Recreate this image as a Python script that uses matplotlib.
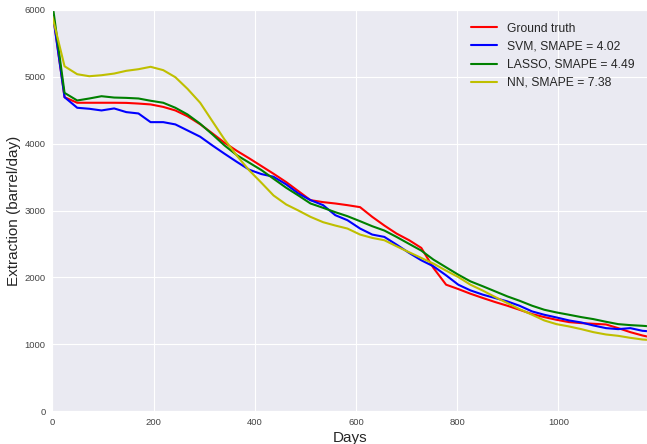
import numpy as np
import matplotlib
matplotlib.use("Agg")
import matplotlib.pyplot as plt
import seaborn as sns

# measurement days (roughly every 24.3 days)
days = [0, 24, 49, 73, 97, 122, 146, 170, 194, 219, 243, 267, 292, 316, 340,
        365, 389, 413, 437, 462, 486, 510, 535, 559, 583, 608, 632, 656, 680,
        705, 729, 753, 778, 802, 826, 851, 875, 899, 923, 948, 972, 996, 1021,
        1045, 1069, 1094, 1118, 1142, 1166, 1175]

truth = [6000, 4695, 4612, 4612, 4612, 4612, 4610, 4600, 4587, 4550, 4497,
         4410, 4290, 4155, 4015, 3890, 3780, 3665, 3550, 3425, 3290, 3155,
         3125, 3105, 3080, 3050, 2905, 2775, 2655, 2555, 2440, 2140, 1890,
         1825, 1755, 1690, 1630, 1575, 1515, 1450, 1405, 1365, 1330, 1315,
         1305, 1295, 1240, 1180, 1130, 1115]

svm = [5980, 4695, 4537, 4522, 4497, 4527, 4472, 4452, 4322, 4322, 4288,
       4198, 4104, 3974, 3850, 3725, 3610, 3545, 3505, 3390, 3255, 3155,
       3080, 2930, 2855, 2730, 2640, 2605, 2490, 2365, 2255, 2165, 2030,
       1890, 1805, 1740, 1690, 1640, 1575, 1490, 1440, 1400, 1355, 1325,
       1280, 1240, 1225, 1240, 1200, 1195]

lasso = [6100, 4760, 4646, 4676, 4710, 4690, 4685, 4676, 4642, 4612, 4537,
         4437, 4298, 4140, 3974, 3825, 3715, 3605, 3475, 3340, 3225, 3105,
         3040, 2975, 2915, 2840, 2765, 2700, 2605, 2500, 2400, 2265, 2150,
         2040, 1940, 1865, 1790, 1715, 1650, 1575, 1515, 1475, 1440, 1405,
         1375, 1335, 1300, 1285, 1275, 1270]

nn = [5900, 5158, 5039, 5009, 5024, 5049, 5090, 5114, 5150, 5100, 4994,
      4820, 4612, 4337, 4064, 3815, 3600, 3415, 3225, 3090, 3000, 2905,
      2825, 2775, 2730, 2640, 2590, 2555, 2465, 2375, 2290, 2205, 2100,
      2005, 1890, 1800, 1705, 1615, 1525, 1440, 1355, 1300, 1265, 1225,
      1180, 1145, 1125, 1095, 1070, 1065]

series = [
    (truth, "#ff0000", "Ground truth"),
    (svm, "#0000ff", "SVM, SMAPE = 4.02"),
    (lasso, "#008000", "LASSO, SMAPE = 4.49"),
    (nn, "#bfbf00", "NN, SMAPE = 7.38"),
]

sns.set_style("darkgrid")
plt.rcParams['font.family'] = ['Liberation Sans', 'DejaVu Sans']

fig = plt.figure(figsize=(6.47, 4.44), dpi=100)
ax = fig.add_axes([0.081, 0.0743, 0.919, 0.9032])

for vals, col, lab in series:
    ax.plot(days, vals, color=col, lw=1.5, label=lab)

ax.set_xlim(0, 1175)
ax.set_ylim(0, 6000)
ax.set_xticks([0, 200, 400, 600, 800, 1000])
ax.set_yticks([0, 1000, 2000, 3000, 4000, 5000, 6000])
ax.tick_params(axis='both', labelsize=6.8, colors='#444444', length=2,
               width=0.8, direction='out', pad=3)
ax.set_xlabel("Days", fontsize=11, color='#262626', labelpad=3)
ax.set_ylabel("Extraction (barrel/day)", fontsize=11, color='#262626', labelpad=2.5)

leg = ax.legend(loc='upper right', frameon=False, fontsize=8.7,
                handlelength=2.15, handletextpad=0.8,
                borderaxespad=0.65, labelspacing=0.5)

fig.savefig("out.png", dpi=100)
